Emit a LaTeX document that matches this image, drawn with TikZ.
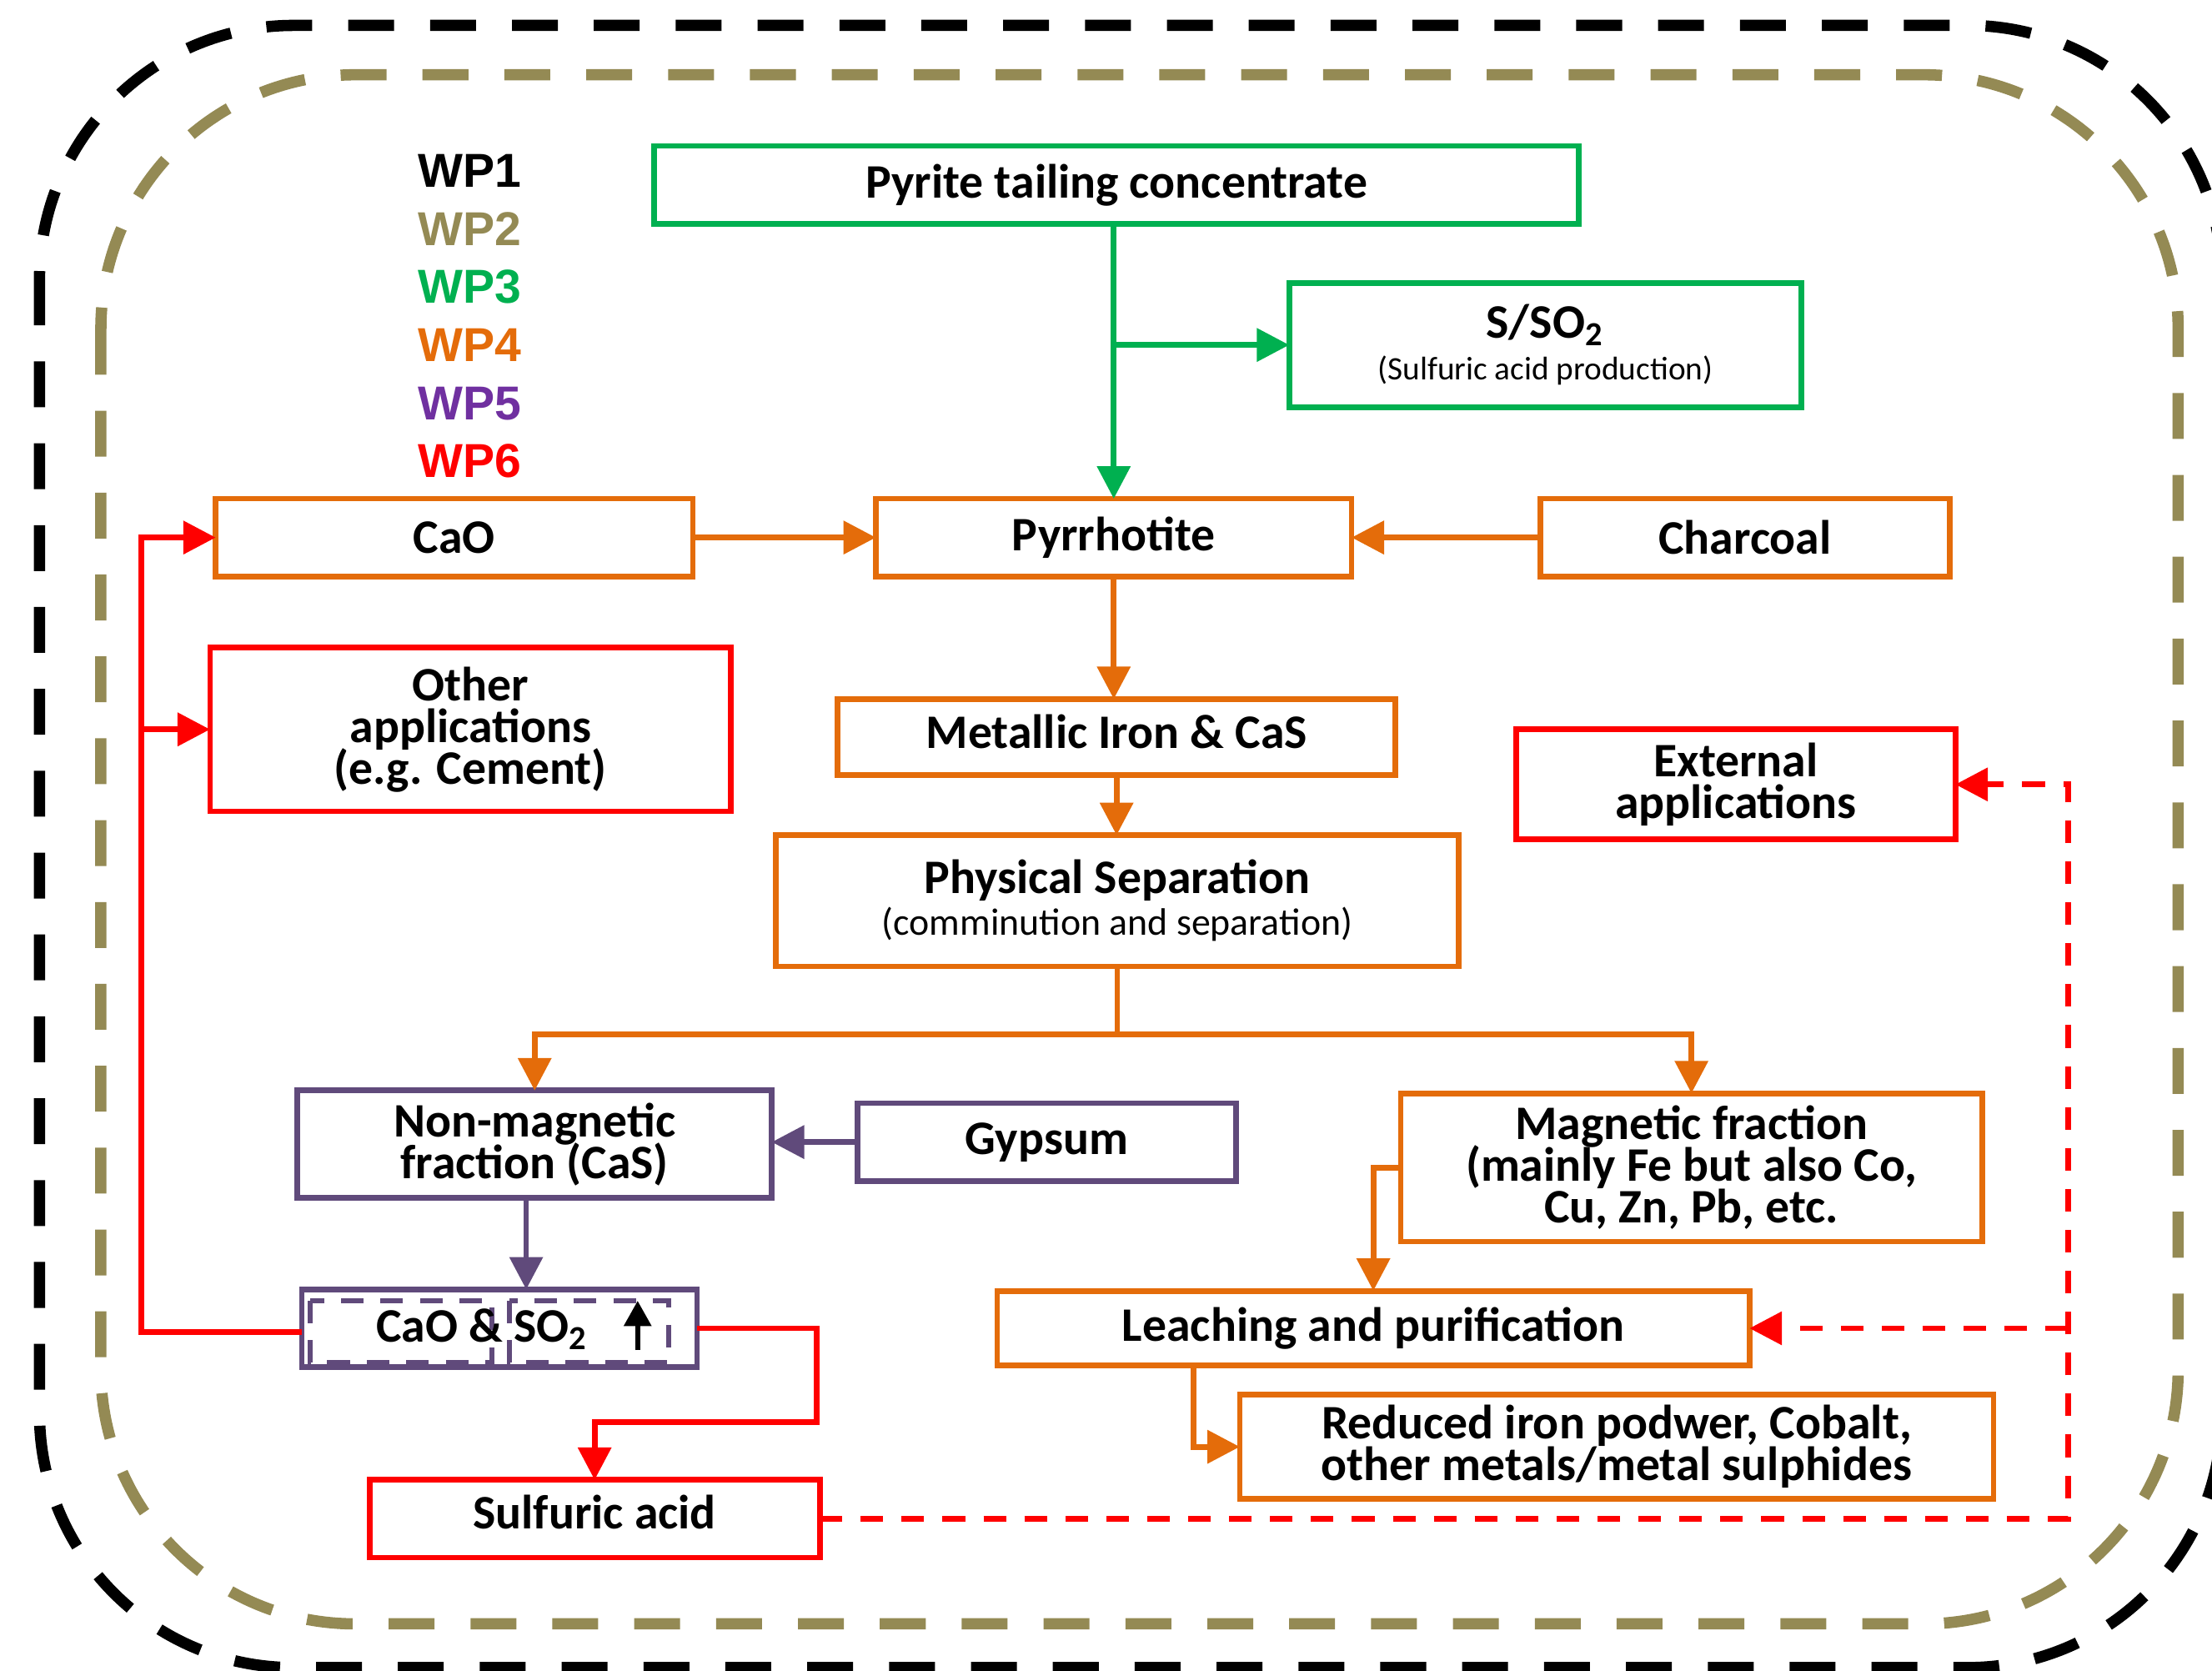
\documentclass[tikz,border=0pt]{standalone}
\usepackage{fontspec}
\setmainfont{Carlito}
\newfontfamily\legendfont{Liberation Sans}
\usetikzlibrary{arrows.meta,calc}
\definecolor{wpgreen}{HTML}{00B050}
\definecolor{wporange}{HTML}{E46C0A}
\definecolor{wppurple}{HTML}{604A7B}
\definecolor{wpviolet}{HTML}{7030A0}
\definecolor{wpolive}{HTML}{948A54}
\definecolor{wpred}{HTML}{FF0000}
\newcommand\mytightlines{\lineskiplimit=-20pt\relax\lineskip=0pt\relax}
\begin{document}
\begin{tikzpicture}[x=0.01cm,y=-0.01cm,
  box/.style={draw,line width=0.04cm,inner sep=0pt,outer sep=0pt,align=center,
    font={\bfseries\fontsize{9.7}{8.4}\selectfont\mytightlines}},
  gbox/.style={box,draw=wpgreen},
  obox/.style={box,draw=wporange},
  rbox/.style={box,draw=wpred},
  pbox/.style={box,draw=wppurple},
  link/.style={line width=0.04cm,-{Triangle[length=0.23cm,width=0.23cm]}},
  plainline/.style={line width=0.04cm},
  dashlink/.style={link,dash pattern=on 0.16cm off 0.13cm},
  legend/.style={anchor=west,inner sep=0pt,font=\legendfont\bfseries\fontsize{9.6}{11}\selectfont},
]
\useasboundingbox (0,0) rectangle (1568,1184);

% outer dashed frames
\draw[black,line width=0.08cm,dash pattern=on 0.325cm off 0.255cm,rounded corners=1.8cm]
  (28,18) rectangle (1575,1182);
\draw[wpolive,line width=0.08cm,dash pattern=on 0.325cm off 0.255cm,rounded corners=1.8cm]
  (71.5,53) rectangle (1544,1151);

% legend
\node[legend,text=black]    (wp1) at (295.5,121) {WP1};
\node[legend,text=wpolive]  (wp2) at (295.5,162.5) {WP2};
\node[legend,text=wpgreen]  (wp3) at (295.5,203.5) {WP3};
\node[legend,text=wporange] (wp4) at (295.5,244.5) {WP4};
\node[legend,text=wpviolet] (wp5) at (295.5,286) {WP5};
\node[legend,text=wpred]    (wp6) at (295.5,327) {WP6};

% boxes
\node[gbox,minimum width=6.55cm,minimum height=0.55cm] (pyrite) at (791.5,131) {Pyrite tailing concentrate};
\node[gbox,minimum width=3.63cm,minimum height=0.88cm] (sso) at (1095.5,244.5)
  {S/SO\textsubscript{2}\\{\mdseries\fontsize{6.6}{7}\selectfont (Sulfuric acid production)}};
\node[obox,minimum width=3.38cm,minimum height=0.55cm] (cao) at (322,381) {CaO};
\node[obox,minimum width=3.37cm,minimum height=0.55cm] (pyrr) at (789.5,381) {Pyrrhotite};
\node[obox,minimum width=2.90cm,minimum height=0.55cm] (charcoal) at (1237,381) {Charcoal};
\node[rbox,minimum width=3.69cm,minimum height=1.16cm] (other) at (333.5,517) {Other\\applications\\(e.g. Cement)};
\node[obox,minimum width=3.95cm,minimum height=0.54cm,text depth=2.3pt] (metal) at (791.5,522.5) {Metallic Iron \& CaS};
\node[rbox,minimum width=3.11cm,minimum height=0.78cm] (ext) at (1230.5,556) {External\\applications};
\node[obox,minimum width=4.84cm,minimum height=0.93cm] (phys) at (792,638.5)
  {Physical Separation\\{\mdseries\fontsize{7.7}{8}\selectfont (comminution and separation)}};
\node[pbox,minimum width=3.36cm,minimum height=0.76cm] (nonmag) at (379,811) {Non-magnetic\\fraction (CaS)};
\node[pbox,minimum width=2.68cm,minimum height=0.55cm] (gypsum) at (742,809.5) {Gypsum};
\node[obox,minimum width=4.12cm,minimum height=1.05cm] (mag) at (1199,827.5)
  {Magnetic fraction\\(mainly Fe but also Co,\\Cu, Zn, Pb, etc.};
\node[pbox,minimum width=2.80cm,minimum height=0.55cm] (caoso) at (354,941.5) {};
\node[obox,minimum width=5.33cm,minimum height=0.53cm] (leach) at (973.5,941.5) {Leaching and purification};
\node[obox,minimum width=5.34cm,minimum height=0.74cm] (reduced) at (1146,1025.5)
  {Reduced iron podwer, Cobalt,\\other metals/metal sulphides};
\node[rbox,minimum width=3.19cm,minimum height=0.55cm,text depth=2.8pt] (sulf) at (421.5,1076.5) {Sulfuric acid};

% inside CaO & SO2 box
\draw[wppurple,line width=0.035cm,dash pattern=on 0.16cm off 0.12cm]
  ($(caoso.north west)+(6,8)$) rectangle ($(caoso.north west)+(135,52)$);
\draw[wppurple,line width=0.035cm,dash pattern=on 0.16cm off 0.12cm]
  ($(caoso.north west)+(147,8)$) rectangle ($(caoso.north west)+(260,52)$);
\node[inner sep=0pt,font=\bfseries\fontsize{9.7}{8.4}\selectfont] (caosotext) at (342,942) {CaO \& SO\textsubscript{2}};
\coordinate (upa) at (452,957);
\coordinate (upb) at (452,922);
\draw[black,line width=0.035cm,-{Triangle[length=0.18cm,width=0.19cm]}] (upa) -- (upb);

% green connectors
\draw[wpgreen,link] (pyrite.south -| pyrr.north) -- (pyrr.north);
\draw[wpgreen,link] (pyrr.north |- sso.west) -- (sso.west);

% orange connectors
\draw[wporange,link] (cao.east) -- (pyrr.west);
\draw[wporange,link] (charcoal.west) -- (pyrr.east);
\draw[wporange,link] (pyrr.south) -- (pyrr.south |- metal.north);
\draw[wporange,link] (metal.south) -- (metal.south |- phys.north);
\draw[wporange,plainline] (phys.south) -- ++(0,48) coordinate (split);
\draw[wporange,link] (split) -| (nonmag.north);
\draw[wporange,link] (split) -| (mag.north);
\draw[wporange,link] (mag.west) -| (leach.north);
\coordinate (lr) at ($(leach.south west)+(139,0)$);
\draw[wporange,link] (lr) |- (reduced.west);

% purple connectors
\draw[wppurple,link] (gypsum.west) -- (gypsum.west -| nonmag.east);
\draw[wppurple,link] ($(nonmag.south)+(-6,0)$) -- ($(nonmag.south |- caoso.north)+(-6,0)$);

% red connectors
\coordinate (rl) at (100,944);
\draw[wpred,link] ($(caoso.west)+(0,2.5)$) -- (rl) |- (cao.west);
\draw[wpred,link] (rl |- other.west) -- (other.west);
\coordinate (rr) at (579,1008);
\draw[wpred,link] (caoso.east) -| (rr) -| (sulf.north);

% red dashed connectors
\coordinate (rd) at (1466,1076.5);
\draw[wpred,dashlink] (sulf.east) -- (rd) |- (ext.east);
\draw[wpred,dashlink] (rd |- leach.east) -- (leach.east);
\end{tikzpicture}
\end{document}
